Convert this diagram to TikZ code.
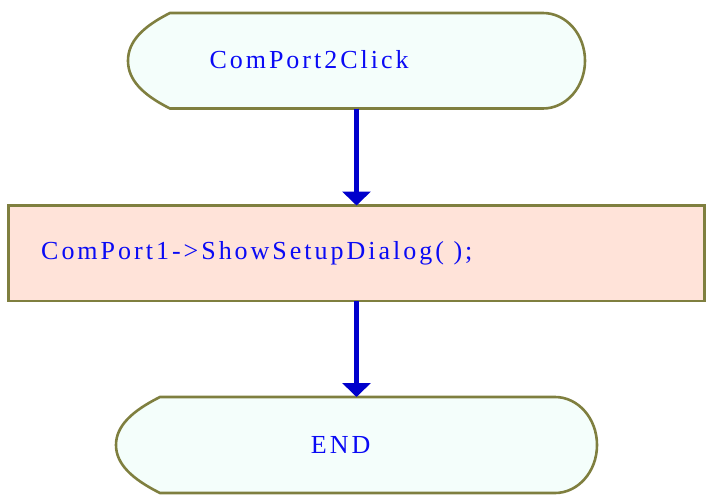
\documentclass[tikz,border=0pt]{standalone}
\usepackage{fontspec}
\usetikzlibrary{arrows.meta}
\newfontfamily\flowfont[LetterSpace=11.5]{Liberation Serif}
\definecolor{edgeolive}{HTML}{7F7F3F}
\definecolor{termfill}{HTML}{F4FEFB}
\definecolor{procfill}{HTML}{FFE3D9}
\definecolor{flowblue}{HTML}{0000CC}
\definecolor{labelblue}{HTML}{0A0AF5}

% terminal outline: left x, top y, right x, bottom y, left corner inset
\newcommand\terminaloutline[5]{%
  \draw[termline] (#1+#5,#2) -- (#3-42,#2)
    arc[start angle=-90,end angle=90,x radius=42,y radius={(#4-#2)/2}]
    -- (#1+#5,#4)
    .. controls (#1+#5-28,#4-14) and (#1,#4-29) .. (#1,{(#2+#4)/2})
    .. controls (#1,#2+29) and (#1+#5-28,#2+14) .. cycle;}

\tikzset{
  termline/.style={draw=edgeolive, line width=2.6pt, fill=termfill},
  shapeframe/.style={draw=none, inner sep=0pt, outer sep=0pt},
  procbox/.style={draw=edgeolive, line width=2.6pt, fill=procfill, inner sep=0pt, outer sep=0pt},
  flowtext/.style={inner sep=0pt, anchor=base west, text=labelblue,
    font=\flowfont\fontsize{26}{30}\selectfont},
  flow/.style={draw=flowblue, line width=4.7pt, -{Triangle[width=28pt,length=14pt]}}
}

\begin{document}
\begin{tikzpicture}[x=1pt,y=-1pt]
  \useasboundingbox (0,0) rectangle (706,495);

  % start terminal
  \terminaloutline{128}{13}{585}{108.5}{42}
  \node[shapeframe, minimum width=457pt, minimum height=95.5pt] (start) at (356.5,60.75) {};
  \node[flowtext] (starttext) at (209.3,68.5) {ComPort2Click};

  % process box
  \node[procbox, minimum width=696.4pt, minimum height=95.5pt] (proc) at (356.5,253.25) {};
  \node[flowtext] (proctext) at (41,259.5) {ComPort1->ShowSetupDialog( );};

  % end terminal
  \terminaloutline{116}{397}{597}{493}{44}
  \node[shapeframe, minimum width=481pt, minimum height=96pt] (finish) at (356.5,445) {};
  \node[flowtext] (finishtext) at (310.7,453) {END};

  % connectors
  \draw[flow] (start.south) -- (proc.north);
  \draw[flow] (proc.south) -- (finish.north);
\end{tikzpicture}
\end{document}
